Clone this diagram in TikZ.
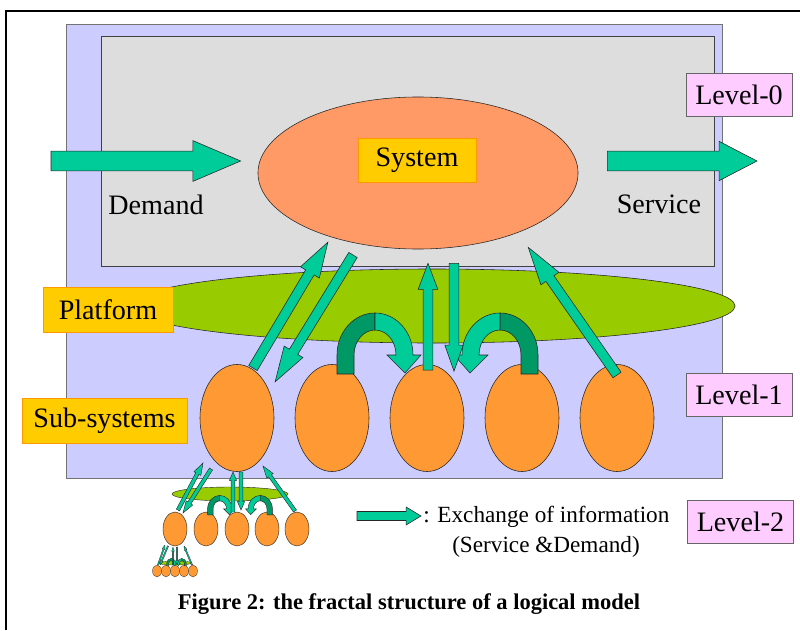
\documentclass[tikz,border=0pt]{standalone}
\usepackage{fontspec}
\setmainfont{Liberation Serif}
\usetikzlibrary{shapes.geometric,calc}
\definecolor{lavender}{RGB}{204,204,255}
\definecolor{panelgray}{RGB}{221,221,221}
\definecolor{systemorange}{RGB}{255,153,102}
\definecolor{suborange}{RGB}{255,153,51}
\definecolor{platgreen}{RGB}{153,204,0}
\definecolor{tagyellow}{RGB}{255,204,0}
\definecolor{tagborder}{RGB}{255,153,0}
\definecolor{levelpink}{RGB}{255,204,255}
\definecolor{infoteal}{RGB}{0,204,153}
\definecolor{infodark}{RGB}{0,153,102}
\tikzset{
  infoarrow/.style={draw=black!85,fill=infoteal,line join=miter},
  turnback/.style={draw=black!85,fill=infodark},
  subsys/.style={ellipse,draw=black!85,fill=suborange,inner sep=0pt},
  tag/.style={draw=tagborder,fill=tagyellow,line width=0.6pt,inner sep=0pt},
  levelbox/.style={draw=black!60,fill=levelpink,line width=0.6pt,inner sep=0pt,
    minimum width=2.65cm,minimum height=1.075cm}
}
% block arrow: [options]{from}{to}{half body}{half head}{head length}
\newcommand{\blockarrow}[6][]{%
  \path let \p1=#2, \p2=#3 in \pgfextra{%
    \pgfmathsetmacro{\arrang}{atan2(\y2-\y1,\x2-\x1)}%
    \pgfmathsetmacro{\arrlen}{veclen(\x2-\x1,\y2-\y1)}%
    \xdef\arrang{\arrang}\xdef\arrlen{\arrlen}};
  \draw[infoarrow,shift={#2},rotate=\arrang,#1]
    (0pt,-#4) -- ({\arrlen pt-#6},-#4) -- ({\arrlen pt-#6},-#5)
    -- ({\arrlen pt},0pt) -- ({\arrlen pt-#6},#5) -- ({\arrlen pt-#6},#4)
    -- (0pt,#4) -- cycle;
}
% curved exchange arrow between neighbouring sub-systems
\newcommand{\uturn}[1]{%
  \begin{scope}[#1]
    \draw[turnback] (5,-44) -- (5,-63)
      arc[start angle=180,end angle=270,x radius=38,y radius=42]
      -- (43,-88) arc[start angle=270,end angle=180,x radius=21,y radius=25]
      -- (22,-44) -- cycle;
    \draw[infoarrow] (43,-105)
      arc[start angle=270,end angle=360,x radius=38,y radius=42]
      -- (89,-63) -- (73,-45) -- (55,-63) -- (64,-63)
      arc[start angle=360,end angle=270,x radius=21,y radius=25] -- cycle;
  \end{scope}}
\begin{document}
\begin{tikzpicture}[x=0.025cm,y=-0.025cm,font=\fontsize{20}{24}\selectfont]
    \useasboundingbox (0,0) rectangle (800,630);
    % Frame
    \draw[line width=1.8pt] (800,11) -- (6,11) -- (6,630);
    
    % Level-1 area and level-0 panel
    \draw[draw=black!55,fill=lavender] (66,24) rectangle (722,478);
    \draw[draw=black!75,fill=panelgray] (101,36) rectangle (714,266);
    
    % System
    \node[ellipse,draw=black!85,fill=systemorange,minimum width=8cm,minimum height=3.8cm,inner sep=0pt] (system) at (418,173) {};
    \node[tag,minimum width=2.95cm,minimum height=1.1cm] (systag) at (417,160) {System};
    
    % Demand and service
    \coordinate (demandtail) at (51,161);
    \coordinate (servicehead) at (757,161);
    \blockarrow{(demandtail)}{($(system.west |- demandtail)+(-17,0)$)}{7pt}{14.5pt}{34pt}
    \blockarrow{($(system.east |- servicehead)+(29,0)$)}{(servicehead)}{7pt}{14pt}{27pt}
    \node (demand) at (156,205) {Demand};
    \node (service) at (659,204) {Service};
    
    % Platform and sub-systems
    \node[ellipse,draw=black!85,fill=platgreen,minimum width=15.15cm,minimum height=1.85cm,inner sep=0pt] (platform) at (432,306) {};
    \foreach \i/\x in {1/237,2/332,3/427,4/522,5/617}
        \node[subsys,minimum width=1.85cm,minimum height=2.675cm] (sub\i) at (\x,418) {};
    
    \uturn{shift={(sub2.center)}}
    \uturn{shift={($(sub4.center)+(21,0)$)},xscale=-1}
    \blockarrow{($(sub1.center)+(16,-50)$)}{($(system.center)+(-90,69)$)}{3.5pt}{7.8pt}{25pt}
    \blockarrow{($(system.center)+(-65,82)$)}{($(sub2.center)+(-57,-36)$)}{3.5pt}{7.8pt}{25pt}
    \blockarrow{($(sub3.north)+(1,6)$)}{($(system.south)+(10,14)$)}{3.5pt}{7pt}{18.5pt}
    \blockarrow{($(system.south)+(36,14)$)}{($(sub3.north)+(27,7)$)}{3.5pt}{6.5pt}{18.5pt}
    \blockarrow{($(sub5.center)+(0,-43)$)}{($(system.center)+(110,74)$)}{3.5pt}{7.8pt}{27pt}
    
    % Tags and levels
    \node[tag,minimum width=3.25cm,minimum height=1.125cm] (platformtag) at (108,309.5) {Platform};
    \node[tag,minimum width=4.125cm,minimum height=1.125cm] (subtag) at (104.5,420.5) {Sub-systems};
    \node[levelbox] (level0) at (739,94.5) {Level-0};
    \node[levelbox] (level1) at (739,394.5) {Level-1};
    \node[levelbox] (level2) at (740.5,521.5) {Level-2};
    
    % Level 2
    \begin{scope}[line width=0.3pt]
        \node[ellipse,draw=black!85,fill=platgreen,minimum width=2.9cm,minimum height=0.35cm,inner sep=0pt] (platformb) at (230,494) {};
        \foreach \i/\x in {1/175,2/206,3/237,4/267,5/297}
            \node[subsys,minimum width=0.6cm,minimum height=0.85cm] (ssub\i) at (\x,529) {};
        \uturn{shift={(ssub2.center)},scale=0.32}
        \uturn{shift={($(ssub4.center)+(7,0)$)},scale=0.32,xscale=-1}
        \blockarrow{($(ssub1.center)+(3,-19)$)}{($(sub1.center)+(-34,45)$)}{1.3pt}{2.8pt}{8.5pt}
        \blockarrow{($(sub1.center)+(-26,51)$)}{($(ssub2.center)+(-23,-16)$)}{1.3pt}{2.8pt}{8.5pt}
        \blockarrow{($(ssub3.center)+(-4,-17)$)}{($(sub1.center)+(-4,54)$)}{1.3pt}{2.6pt}{6pt}
        \blockarrow{($(sub1.center)+(4,54)$)}{($(ssub3.center)+(4,-19)$)}{1.3pt}{2.6pt}{6pt}
        \blockarrow{($(ssub5.center)+(-2,-18)$)}{($(sub1.center)+(26,48)$)}{1.3pt}{2.8pt}{8.5pt}
    \end{scope}
    
    % Level 3
    \begin{scope}[line width=0.2pt]
        \node[ellipse,draw=black!85,fill=platgreen,minimum width=0.85cm,minimum height=0.1cm,inner sep=0pt] (platformc) at (175,563) {};
        \foreach \i/\x in {1/157,2/166,3/175,4/184,5/193}
            \node[subsys,minimum width=0.225cm,minimum height=0.3cm] (sssub\i) at (\x,571) {};
        \uturn{shift={(sssub2.center)},scale=0.12}
        \uturn{shift={($(sssub4.center)+(3,0)$)},scale=0.12,xscale=-1}
        \blockarrow{($(sssub1.center)+(1,-6)$)}{($(ssub1.center)+(-10,16)$)}{0.45pt}{1pt}{3pt}
        \blockarrow{($(ssub1.center)+(-7,17)$)}{($(sssub2.center)+(-6,-6)$)}{0.45pt}{1pt}{3pt}
        \blockarrow{($(sssub3.center)+(-2,-6)$)}{($(ssub1.center)+(-2,18)$)}{0.45pt}{1pt}{3pt}
        \blockarrow{($(ssub1.center)+(2,18)$)}{($(sssub3.center)+(2,-6)$)}{0.45pt}{1pt}{3pt}
        \blockarrow{($(sssub5.center)+(-1,-6)$)}{($(ssub1.center)+(9,17)$)}{0.45pt}{1pt}{3pt}
    \end{scope}
    
    % Legend
    \node[font=\fontsize{16.5}{20}\selectfont,anchor=base west,inner sep=0pt] (legendtop) at (423,522) {: Exchange of information};
    \node[font=\fontsize{16.5}{20}\selectfont,anchor=base,inner sep=0pt] (legendbottom) at (546,552) {(Service \&Demand)};
    \coordinate (legendtail) at (357,516);
    \blockarrow{(legendtail)}{($(legendtail -| legendtop.west)+(-2,0)$)}{3.2pt}{6.4pt}{10.6pt}
    
    % Caption
    \node[font=\fontsize{16}{19}\selectfont\bfseries,anchor=base] (caption) at (409,609) {Figure 2: the fractal structure of a logical model};
\end{tikzpicture}
\end{document}
